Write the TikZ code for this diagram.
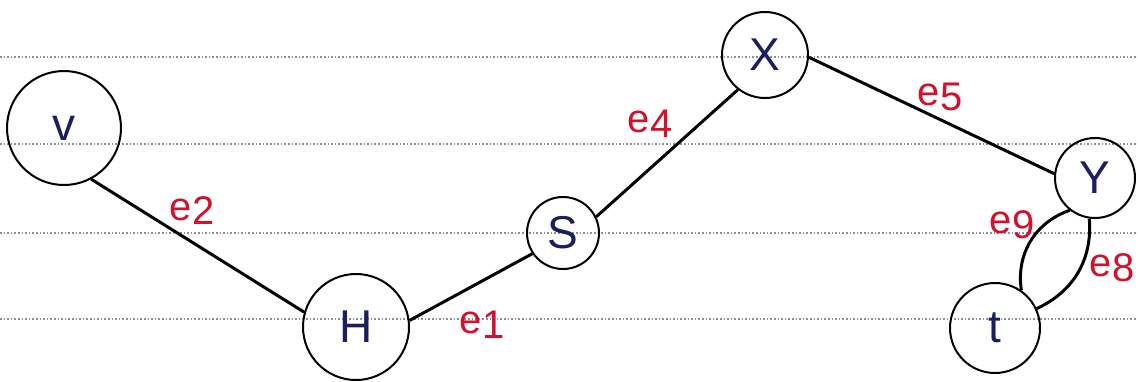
\documentclass[tikz,border=0pt]{standalone}
\usepackage{fontspec}
\setmainfont{Liberation Sans}
\definecolor{ink}{HTML}{1C1F5E}
\definecolor{redink}{HTML}{D0122C}
\definecolor{ruled}{HTML}{8A8F99}
\newcommand{\elabel}[1]{e\raisebox{-0.12em}{#1}}
\begin{document}
\begin{tikzpicture}[x=1pt,y=-1pt,
  vtx/.style={circle,draw=black,line width=2pt,inner sep=0pt,text=ink,
    font=\fontsize{46}{46}\selectfont},
  edge/.style={line width=3pt,black},
  elab/.style={text=redink,font=\fontsize{40}{40}\selectfont},
  rule/.style={ruled,line width=1.6pt,dotted}]
\useasboundingbox (0,0) rectangle (1138,381);
\fill[white] (0,0) rectangle (1138,381);
% ruled paper lines
\foreach \yy in {57,144,233,319}
  \draw[rule] (0,\yy) -- (1138,\yy);
% vertices
\node[vtx,minimum size=114pt] (v) at (64,128) {v};
\node[vtx,minimum size=106pt] (H) at (356,327) {H};
\node[vtx,minimum size=72pt]  (S) at (563,233) {S};
\node[vtx,minimum size=86pt]  (X) at (765,55)  {X};
\node[vtx,minimum size=80pt]  (Y) at (1095,178) {Y};
\node[vtx,minimum size=90pt]  (t) at (995,328) {t};
% edges
\draw[edge] (v.-62) -- (H.164);
\draw[edge] (H.7) -- (S.214);
\draw[edge] (S.26) -- (X.232);
\draw[edge] (X.-3) -- (Y.174);
\draw[edge] (Y.232) to[bend right=40] (t.55);
\draw[edge] (Y.262) to[bend left=35] (t.25);
% edge labels
\node[elab] (l2) at (192,211) {\elabel{2}};
\node[elab] (l1) at (482,325) {\elabel{1}};
\node[elab] (l4) at (650,124) {\elabel{4}};
\node[elab] (l5) at (940,97)  {\elabel{5}};
\node[elab] (l9) at (1012,225) {\elabel{9}};
\node[elab] (l8) at (1112,268) {\elabel{8}};
\end{tikzpicture}
\end{document}
